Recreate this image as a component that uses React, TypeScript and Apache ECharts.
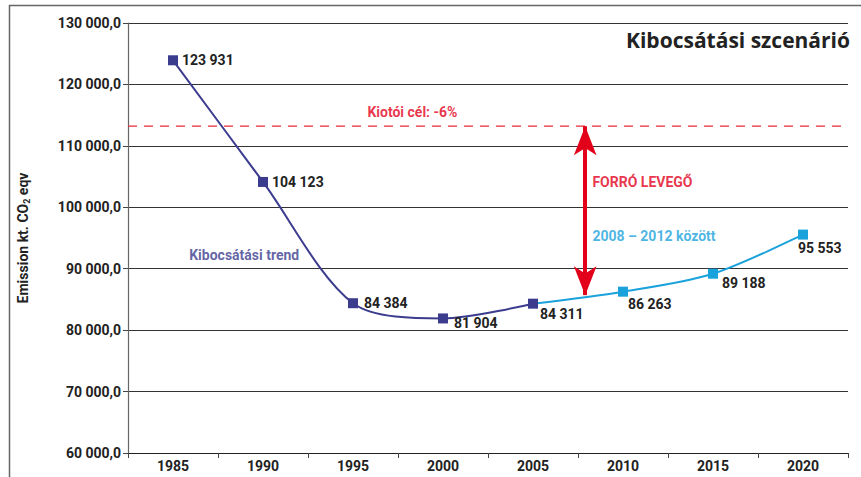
import React, { useEffect, useRef } from 'react';
import * as echarts from 'echarts';

// ---- data ----
const years = ['1985', '1990', '1995', '2000', '2005', '2010', '2015', '2020'];
const trendValues: (number | null)[] = [123931, 104123, 84384, 81904, 84311, null, null, null];
const scenarioValues: (number | null)[] = [null, null, null, null, 84311, 86263, 89188, 95553];
const yMin = 60000;
const yMax = 130000;
const yStep = 10000;
const kyotoTarget = 113200;
const hotAirYear = 2007.9;
const hotAirTop = kyotoTarget;
const hotAirBottom = 85700;

const title = 'Kibocsátási szcenárió';
const kyotoLabel = 'Kiotói cél: -6%';
const hotAirLabel = 'FORRÓ LEVEGŐ';
const periodLabel = '2008 – 2012 között';
const trendLabel = 'Kibocsátási trend';

const FONT = "Roboto, 'DejaVu Sans Condensed', sans-serif";
const DARK = '#3b3c8e';
const LIGHT = '#1aa2dc';
const RED = '#e2001a';

const fmtNum = (v: number) => {
  const s = Math.round(v).toString();
  return s.replace(/\B(?=(\d{3})+(?!\d))/g, ' ');
};

export default function App() {
  const ref = useRef<HTMLDivElement>(null);
  useEffect(() => {
    if (!ref.current) return;
    const chart = echarts.init(ref.current, undefined, { renderer: 'svg' });

    // label offsets (layout only)
    const trendOffsets: Record<number, number[]> = { 0: [0, 0], 1: [0, 0], 2: [2, 0], 3: [2, 5], 4: [-2, 10] };
    const scenOffsets: Record<number, number[]> = { 5: [-4, 12], 6: [0, 9], 7: [-14, 13] };

    const trendData = trendValues.map((v, i) =>
      v == null ? null : { value: v, label: { offset: trendOffsets[i] || [0, 0] } }
    );
    const scenData = scenarioValues.map((v, i) => {
      if (v == null) return null;
      if (i === 4) return { value: v, symbol: 'none', label: { show: false } };
      return { value: v, label: { offset: scenOffsets[i] || [0, 0] } };
    });

    const dataLabel = {
      show: true,
      position: 'right',
      distance: 4,
      color: '#222',
      fontFamily: FONT,
      fontWeight: 'bold',
      fontSize: 14,
      formatter: (p: any) => fmtNum(p.value),
    };

    const annotation = (x: number, y: number, text: string, color: string, size: number, pos: string) => ({
      type: 'scatter',
      xAxisIndex: 1,
      symbolSize: 0,
      silent: true,
      data: [[x, y]],
      label: {
        show: true,
        position: pos,
        distance: 0,
        formatter: text,
        color,
        fontFamily: FONT,
        fontWeight: 'bold',
        fontSize: size,
      },
      z: 5,
    });

    chart.setOption({
      animation: false,
      backgroundColor: '#fff',
      title: {
        text: title,
        right: 6,
        top: 24,
        textStyle: { fontFamily: "'Open Sans', sans-serif", fontWeight: 'bold', fontSize: 21, color: '#222' },
      },
      grid: { left: 128, right: 13, top: 23, bottom: 24, containLabel: false },
      xAxis: [
        {
          type: 'category',
          data: years,
          boundaryGap: true,
          axisLine: { lineStyle: { color: '#222', width: 1.2 } },
          axisTick: { show: true, length: 5, lineStyle: { color: '#444' } },
          axisLabel: { color: '#222', fontFamily: FONT, fontWeight: 'bold', fontSize: 14, margin: 6 },
          splitLine: { show: false },
        },
        { type: 'value', min: 1982.5, max: 2022.5, show: false },
      ],
      yAxis: {
        type: 'value',
        min: yMin,
        max: yMax,
        interval: yStep,
        axisLine: { show: true, lineStyle: { color: '#666', width: 1.2 } },
        axisTick: { show: true, length: 5, lineStyle: { color: '#444' } },
        axisLabel: {
          color: '#222',
          fontFamily: FONT,
          fontWeight: 'bold',
          fontSize: 14,
          margin: 7,
          formatter: (v: number) => fmtNum(v) + ',0',
        },
        splitLine: { show: true, lineStyle: { color: '#333', width: 1.2 } },
        name: 'Emission kt. CO{sub|2} eqv',
        nameLocation: 'middle',
        nameGap: 97,
        nameRotate: 90,
        nameTextStyle: {
          color: '#222',
          fontFamily: FONT,
          fontWeight: 'bold',
          fontSize: 14,
          lineHeight: 16,
          rich: {
            sub: { fontFamily: FONT, fontWeight: 'bold', fontSize: 9, lineHeight: 9, verticalAlign: 'bottom', color: '#222' },
          },
        },
      },
      graphic: [
        { type: 'line', shape: { x1: 9.5, y1: 5, x2: 9.5, y2: 477 }, style: { stroke: '#666', lineWidth: 1.5 } },
        { type: 'line', shape: { x1: 9, y1: 5.5, x2: 861, y2: 5.5 }, style: { stroke: '#666', lineWidth: 1.5 } },
      ],
      series: [
        {
          type: 'line',
          xAxisIndex: 1,
          data: [[1982.5, kyotoTarget], [2022.2, kyotoTarget]],
          symbol: 'none',
          silent: true,
          lineStyle: { color: '#e8283a', width: 1.3, type: [9, 7] },
          z: 3,
        },
        {
          type: 'line',
          xAxisIndex: 1,
          data: [[hotAirYear, hotAirTop]],
          symbol: 'none',
          silent: true,
          lineStyle: { width: 0 },
          markLine: {
            silent: true,
            symbol: ['arrow', 'arrow'],
            symbolSize: [17, 29],
            label: { show: false },
            lineStyle: { color: RED, width: 4, type: 'solid' },
            data: [[{ coord: [hotAirYear, hotAirTop] }, { coord: [hotAirYear, hotAirBottom] }]],
          },
          z: 4,
        },
        {
          type: 'line',
          name: 'scenario',
          data: scenData,
          smooth: 0.3,
          symbol: 'rect',
          symbolSize: 10,
          connectNulls: false,
          itemStyle: { color: LIGHT },
          lineStyle: { color: LIGHT, width: 2 },
          label: dataLabel,
          z: 6,
        },
        {
          type: 'line',
          name: 'trend',
          data: trendData,
          smooth: 0.3,
          symbol: 'rect',
          symbolSize: 10,
          itemStyle: { color: DARK },
          lineStyle: { color: DARK, width: 2 },
          label: dataLabel,
          z: 7,
        },
        annotation(1998.3, 115500, kyotoLabel, RED, 14, 'inside'),
        annotation(2008.3, 104100, hotAirLabel, RED, 14, 'right'),
        annotation(2008.3, 95300, periodLabel, LIGHT, 14, 'right'),
        annotation(1985.9, 92200, trendLabel, DARK, 14, 'right'),
      ],
    });
    return () => chart.dispose();
  }, []);
  return <div ref={ref} style={{ position: 'fixed', left: 0, top: 0, width: 861, height: 477 }} />;
}
